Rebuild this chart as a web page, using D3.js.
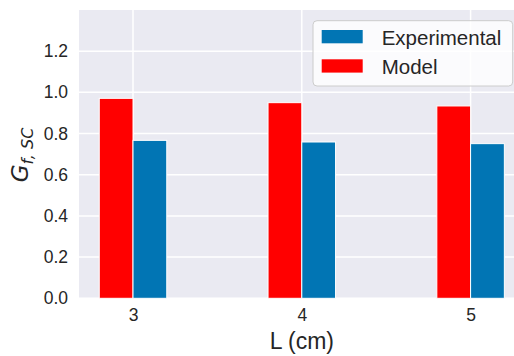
<!DOCTYPE html>
<html>
<head>
<meta charset="utf-8">
<script src="https://cdn.jsdelivr.net/npm/d3@7"></script>
<style>
  html, body { margin: 0; padding: 0; background: #ffffff; }
  svg { display: block; }
</style>
</head>
<body>
<script>
// Conductance ratio vs. length: model vs. experiment
const lengths = [3, 4, 5];
const modelValues = [0.971, 0.950, 0.934];
const experimentalValues = [0.767, 0.759, 0.751];
const yTickValues = [0.0, 0.2, 0.4, 0.6, 0.8, 1.0, 1.2];
const xTickValues = [3, 4, 5];
const seriesNames = ["Experimental", "Model"];

const W = 514, H = 356;
const colors = { Experimental: "#0175b4", Model: "#ff0000" };
const barWidth = 0.2;

const svg = d3.select("body").append("svg")
  .attr("width", W).attr("height", H);

const x = d3.scaleLinear().domain([2.68, 5.32]).range([79, 524.6]);
const y = d3.scaleLinear().domain([0, 1.4]).range([298.3, 10]);

const [x0, x1] = x.range();
const [yb, yt] = y.range();

// plot background
svg.append("rect")
  .attr("x", x0).attr("y", yt)
  .attr("width", x1 - x0).attr("height", yb - yt)
  .attr("fill", "#eaeaf2");

// grid lines
const grid = svg.append("g");
grid.selectAll("line.h").data(yTickValues).join("line")
  .attr("class", "h")
  .attr("x1", x0).attr("x2", x1)
  .attr("y1", d => y(d)).attr("y2", d => y(d))
  .attr("stroke", "#ffffff").attr("stroke-width", 1.5);
grid.selectAll("line.v").data(xTickValues).join("line")
  .attr("class", "v")
  .attr("x1", d => x(d)).attr("x2", d => x(d))
  .attr("y1", yt).attr("y2", yb)
  .attr("stroke", "#ffffff").attr("stroke-width", 1.5);

// bars: model to the left of each tick, experiment to the right
const bars = svg.append("g");
bars.selectAll("rect.model").data(lengths).join("rect")
  .attr("class", "model")
  .attr("x", d => x(d - barWidth))
  .attr("width", d => x(d) - x(d - barWidth))
  .attr("y", (d, i) => y(modelValues[i]))
  .attr("height", (d, i) => y(0) - y(modelValues[i]))
  .attr("fill", colors.Model)
  .attr("stroke", "#ffffff").attr("stroke-width", 1);
bars.selectAll("rect.exp").data(lengths).join("rect")
  .attr("class", "exp")
  .attr("x", d => x(d))
  .attr("width", d => x(d + barWidth) - x(d))
  .attr("y", (d, i) => y(experimentalValues[i]))
  .attr("height", (d, i) => y(0) - y(experimentalValues[i]))
  .attr("fill", colors.Experimental)
  .attr("stroke", "#ffffff").attr("stroke-width", 1);

// axes
const tickFont = "'Liberation Sans', Arial, sans-serif";
const yAxis = svg.append("g")
  .attr("transform", `translate(${x0},0)`)
  .call(d3.axisLeft(y).tickValues(yTickValues).tickSize(0).tickPadding(11)
    .tickFormat(d3.format(".1f")));
const xAxis = svg.append("g")
  .attr("transform", `translate(0,${yb})`)
  .call(d3.axisBottom(x).tickValues(xTickValues).tickSize(0).tickPadding(10)
    .tickFormat(d3.format("d")));
[yAxis, xAxis].forEach(a => {
  a.select(".domain").remove();
  a.selectAll("text")
    .attr("font-family", tickFont)
    .attr("font-size", 17.5)
    .attr("fill", "#262626");
});

// axis titles
svg.append("text")
  .attr("x", (x(3) + x(5)) / 2).attr("y", 349)
  .attr("text-anchor", "middle")
  .attr("font-family", tickFont)
  .attr("font-size", 23)
  .attr("fill", "#262626")
  .text("L (cm)");

const yl = svg.append("text")
  .attr("transform", "translate(28,155) rotate(-90)")
  .attr("text-anchor", "middle")
  .attr("font-family", "'DejaVu Sans', sans-serif")
  .attr("font-style", "italic")
  .attr("fill", "#262626");
yl.append("tspan").attr("font-size", 23).text("G");
yl.append("tspan").attr("font-size", 16).attr("dy", 5).text("f, SC");

// legend
const legend = svg.append("g");
legend.append("rect")
  .attr("x", 313).attr("y", 20.7)
  .attr("width", 199.7).attr("height", 65.3)
  .attr("rx", 4).attr("ry", 4)
  .attr("fill", "#ffffff").attr("fill-opacity", 0.8)
  .attr("stroke", "#cccccc").attr("stroke-width", 1);
const items = legend.selectAll("g.item").data(seriesNames).join("g")
  .attr("class", "item")
  .attr("transform", (d, i) => `translate(0,${i * 29.3})`);
items.append("rect")
  .attr("x", 321.7).attr("y", 30)
  .attr("width", 41).attr("height", 13.3)
  .attr("fill", d => colors[d]);
items.append("text")
  .attr("x", 381.7).attr("y", 44.5)
  .attr("font-family", tickFont)
  .attr("font-size", 20.5)
  .attr("fill", "#262626")
  .text(d => d);
</script>
</body>
</html>
